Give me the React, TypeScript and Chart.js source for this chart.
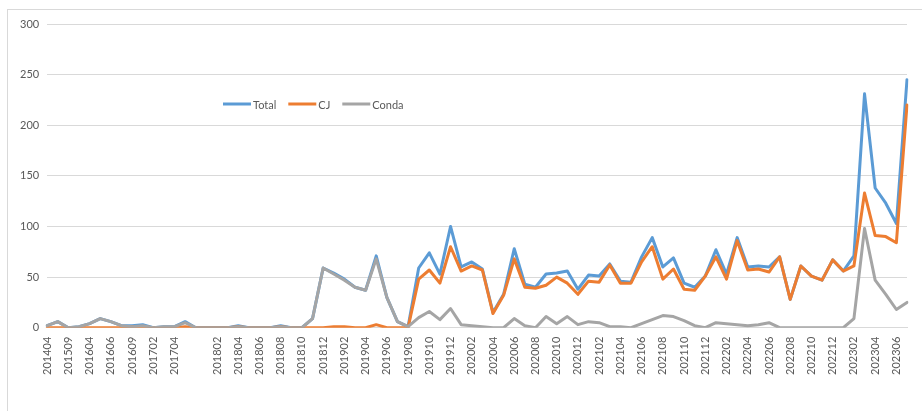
import React, { useEffect, useRef } from "react";
import { Chart, registerables } from "chart.js";

Chart.register(...registerables);

const categories: string[] = [
  "201404", "201406", "201509", "201512", "201604", "201605", "201606", "201607",
  "201609", "201611", "201702", "201703", "201704", "201705", "", "201801",
  "201802", "201803", "201804", "201805", "201806", "201807", "201808", "201809",
  "201810", "201811", "201812", "201901", "201902", "201903", "201904", "201905",
  "201906", "201907", "201908", "201909", "201910", "201911", "201912", "202001",
  "202002", "202003", "202004", "202005", "202006", "202007", "202008", "202009",
  "202010", "202011", "202012", "202101", "202102", "202103", "202104", "202105",
  "202106", "202107", "202108", "202109", "202110", "202111", "202112", "202201",
  "202202", "202203", "202204", "202205", "202206", "202207", "202208", "202209",
  "202210", "202211", "202212", "202301", "202302", "202303", "202304", "202305",
  "202306", "202307",
];

const totalValues: number[] = [
  2, 6, 0, 1, 4, 9, 6, 2, 2, 3, 0, 1, 1, 6, 0, 0,
  0, 0, 2, 0, 0, 0, 2, 0, 0, 9,
  59, 54, 48, 40, 37, 71, 30, 6, 1,
  59, 74, 53, 100, 60, 65, 58, 15, 33, 78, 43, 40, 53, 54, 56, 38, 52, 51, 63, 46, 45,
  70, 89, 60, 69, 44, 40, 51, 77, 53, 89, 60, 61, 60, 70, 28, 61, 51, 47, 67, 56,
  71, 231, 138, 123, 103, 245,
];

const cjValues: number[] = [
  0, 0, 0, 0, 0, 0, 0, 0, 1, 1, 0, 0, 0, 1, 0, 0,
  0, 0, 1, 0, 0, 0, 1, 0, 0, 0,
  0, 1, 1, 0, 0, 3, 0, 0, 0,
  48, 57, 44, 80, 56, 61, 57, 14, 32, 68, 40, 39, 42, 50, 44, 33, 46, 45, 62, 44, 44,
  65, 80, 48, 58, 38, 37, 51, 70, 48, 86, 57, 58, 55, 70, 28, 61, 51, 47, 67, 56,
  61, 133, 91, 90, 84, 220,
];

const condaValues: number[] = [
  2, 6, 0, 1, 4, 9, 6, 2, 1, 2, 0, 1, 1, 5, 0, 0,
  0, 0, 1, 0, 0, 0, 1, 0, 0, 9,
  59, 53, 47, 40, 37, 68, 30, 6, 1,
  10, 16, 8, 19, 3, 2, 1, 0, 0, 9, 2, 0, 11, 4, 11, 3, 6, 5, 1, 1, 0,
  4, 8, 12, 11, 7, 2, 0, 5, 4, 3, 2, 3, 5, 0, 0, 0, 0, 0, 0, 0,
  9, 98, 47, 33, 18, 25,
];

const seriesNames = ["Total", "CJ", "Conda"];
const seriesColors = ["#5B9BD5", "#ED7D31", "#A5A5A5"];
const seriesOrder = [3, 2, 1];
const yTicks = [0, 50, 100, 150, 200, 250, 300];

const FONT = "Lato, 'Liberation Sans', sans-serif";
const TEXT_COLOR = "#595959";

const legendPlugin = {
  id: "innerLegend",
  afterDraw(chart: any) {
    const ctx = chart.ctx;
    const y = 104;
    let x = 223;
    ctx.save();
    ctx.font = `11px ${FONT}`;
    ctx.textBaseline = "middle";
    ctx.textAlign = "left";
    chart.data.datasets.forEach((ds: any) => {
      ctx.strokeStyle = ds.borderColor;
      ctx.lineWidth = 3;
      ctx.lineCap = "butt";
      ctx.beginPath();
      ctx.moveTo(x, y);
      ctx.lineTo(x + 28, y);
      ctx.stroke();
      ctx.fillStyle = TEXT_COLOR;
      ctx.fillText(ds.label, x + 30, y + 1);
      const w = ctx.measureText(ds.label).width;
      x += 30 + w + 12;
    });
    ctx.restore();
  },
};

export default function App() {
  const canvasRef = useRef<HTMLCanvasElement | null>(null);

  useEffect(() => {
    if (!canvasRef.current) return;
    const values = [totalValues, cjValues, condaValues];
    const chart = new Chart(canvasRef.current, {
      type: "line",
      data: {
        labels: categories,
        datasets: seriesNames.map((name, i) => ({
          label: name,
          data: values[i],
          order: seriesOrder[i],
          borderColor: seriesColors[i],
          backgroundColor: seriesColors[i],
          borderWidth: 3,
          pointRadius: 0,
          pointHoverRadius: 0,
          tension: 0,
          fill: false,
          borderJoinStyle: "round" as const,
          borderCapStyle: "round" as const,
        })),
      },
      options: {
        responsive: false,
        animation: false,
        devicePixelRatio: 1,
        layout: { padding: { left: 12, right: 15, top: 24, bottom: 27 } },
        plugins: {
          legend: { display: false },
          tooltip: { enabled: false },
        },
        scales: {
          x: {
            offset: false,
            afterFit: (scale: any) => {
              scale.paddingLeft = 0;
              scale.paddingRight = 0;
            },
            grid: { display: false, drawTicks: false },
            border: { display: true, color: "#D9D9D9", width: 1 },
            ticks: {
              autoSkip: false,
              maxRotation: 90,
              minRotation: 90,
              padding: 9,
              color: TEXT_COLOR,
              font: { family: FONT, size: 11 },
              callback: (_v: any, index: number) =>
                index % 2 === 0 ? categories[index] : "",
            },
          },
          y: {
            min: 0,
            max: 300,
            afterBuildTicks: (scale: any) => {
              scale.ticks = yTicks.map((v) => ({ value: v }));
            },
            grid: { color: "#D9D9D9", lineWidth: 1, drawTicks: false },
            border: { display: false },
            ticks: {
              padding: 8,
              color: TEXT_COLOR,
              font: { family: FONT, size: 11 },
            },
          },
        },
      },
      plugins: [legendPlugin],
    });
    return () => chart.destroy();
  }, []);

  return (
    <div style={{ position: "fixed", left: 0, top: 0, width: 922, height: 411, background: "#fff" }}>
      <div
        style={{
          position: "absolute",
          left: 7,
          top: 9,
          right: 0,
          bottom: 0,
          borderLeft: "1px solid #D9D9D9",
          borderTop: "1px solid #D9D9D9",
        }}
      />
      <canvas
        ref={canvasRef}
        width={922}
        height={411}
        style={{ position: "absolute", left: 0, top: 0, width: 922, height: 411 }}
      />
    </div>
  );
}
